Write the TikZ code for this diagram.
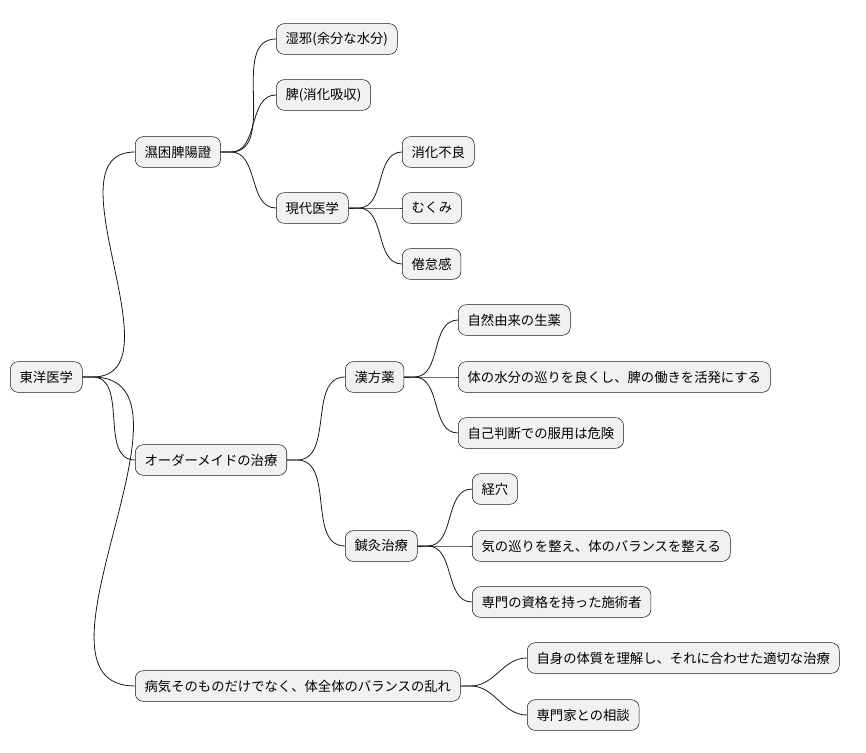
\documentclass[tikz,border=0pt]{standalone}
\usepackage{fontspec}
\setmainfont{Noto Sans CJK JP}
\usetikzlibrary{positioning}
\definecolor{boxfill}{RGB}{241,241,241}
\definecolor{boxline}{RGB}{24,24,24}

\tikzset{
    topic/.style={draw=boxline, fill=boxfill, rounded corners=6pt, anchor=west,
        minimum height=23pt, inner xsep=7pt, font=\fontsize{10pt}{12pt}\selectfont},
    branch/.style={draw=boxline, line width=0.6pt}
}

\begin{document}
\begin{tikzpicture}[x=0.75pt, y=-0.75pt]
    % Frame
    \useasboundingbox (0,0) rectangle (866,752);

    % Root and first level
    \node[topic] (root) at (10,377) {東洋医学};
    \node[topic] (shitsu) at (135,152) {濕困脾陽證};
    \node[topic] (order) at (135,460) {オーダーメイドの治療};
    \node[topic] (byoki) at (135,686) {病気そのものだけでなく、体全体のバランスの乱れ};

    % Second level
    \node[topic] (jaki) at (276,39) {湿邪(余分な水分)};
    \node[topic] (hi) at (276,95) {脾(消化吸収)};
    \node[topic] (gendai) at (276,208) {現代医学};
    \node[topic] (kanpo) at (345,377) {漢方薬};
    \node[topic] (shinkyu) at (345,546) {鍼灸治療};
    \node[topic] (taishitsu) at (527,658) {自身の体質を理解し、それに合わせた適切な治療};
    \node[topic] (sodan) at (527,715) {専門家との相談};

    % Third level
    \node[topic] (shoka) at (402,152) {消化不良};
    \node[topic] (mukumi) at (402,208) {むくみ};
    \node[topic] (kentai) at (402,264) {倦怠感};
    \node[topic] (shoyaku) at (458,320) {自然由来の生薬};
    \node[topic] (suibun) at (458,377) {体の水分の巡りを良くし、脾の働きを活発にする};
    \node[topic] (jiko) at (458,433) {自己判断での服用は危険};
    \node[topic] (keiketsu) at (472,489) {経穴};
    \node[topic] (ki) at (472,546) {気の巡りを整え、体のバランスを整える};
    \node[topic] (senmon) at (472,602) {専門の資格を持った施術者};

    % Connectors
    \foreach \p/\c in {root/shitsu, root/order, root/byoki,
        shitsu/jaki, shitsu/hi, shitsu/gendai,
        gendai/shoka, gendai/mukumi, gendai/kentai,
        order/kanpo, order/shinkyu,
        kanpo/shoyaku, kanpo/suibun, kanpo/jiko,
        shinkyu/keiketsu, shinkyu/ki, shinkyu/senmon,
        byoki/taishitsu, byoki/sodan} {
        \draw[branch] (\p.east) -- ++(10,0) to[out=0, in=180] (\c.west);
    }
\end{tikzpicture}
\end{document}
